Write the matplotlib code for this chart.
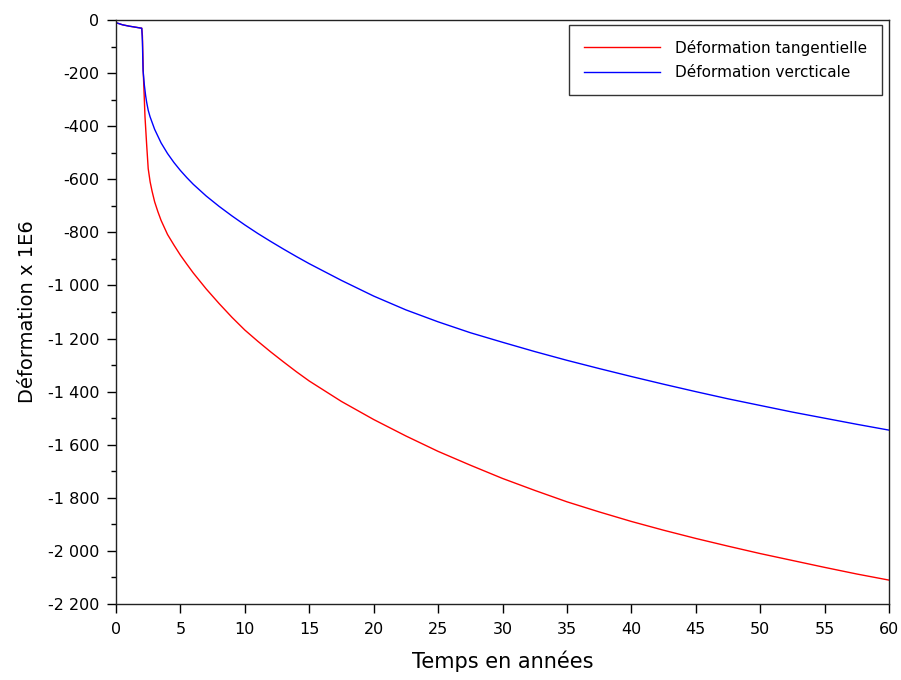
import matplotlib
matplotlib.use("Agg")
import matplotlib.pyplot as plt
from matplotlib.ticker import FixedLocator, MultipleLocator

# Temps (années) / Déformation tangentielle
t_red = [0, 0.5, 1.0, 1.5, 2.0, 2.05, 2.12, 2.2, 2.25, 2.38, 2.5, 2.65, 2.8, 3.0, 3.25, 3.5,
         4.0, 4.5, 5.0, 5.5, 6.0, 7.0, 8.0, 9.0, 10, 11, 12, 13, 14, 15, 17.5, 20, 22.5, 25,
         27.5, 30, 32.5, 35, 37.5, 40, 42.5, 45, 47.5, 50, 52.5, 55, 57.5, 60]
red = [-10, -18, -23, -27, -31, -60, -200, -300, -364, -470, -560, -610, -645, -685, -722, -755,
       -808, -848, -886, -920, -953, -1013, -1068, -1120, -1168, -1210, -1250, -1288, -1325,
       -1360, -1437, -1505, -1567, -1625, -1677, -1727, -1772, -1815, -1853, -1889, -1922,
       -1953, -1982, -2010, -2036, -2062, -2087, -2110]

# Temps (années) / Déformation verticale
t_blue = [0, 0.5, 1.0, 1.5, 2.0, 2.05, 2.1, 2.2, 2.3, 2.38, 2.5, 2.64, 3.0, 3.5, 4.0, 4.5, 5.0,
          5.5, 6.0, 7.0, 8.0, 9.0, 10, 11, 12, 13, 14, 15, 17.5, 20, 22.5, 25, 27.5, 30, 32.5,
          35, 37.5, 40, 42.5, 45, 47.5, 50, 52.5, 55, 57.5, 60]
blue = [-10, -18, -23, -27, -31, -80, -190, -245, -285, -310, -340, -364, -412, -463, -503,
        -537, -567, -594, -619, -663, -702, -738, -772, -804, -834, -863, -891, -918, -981,
        -1040, -1092, -1137, -1178, -1214, -1249, -1282, -1313, -1343, -1372, -1400, -1427,
        -1452, -1477, -1500, -1523, -1545]

labels = ["Déformation tangentielle", "Déformation vercticale"]

xticks = list(range(0, 61, 5))
yticks = list(range(-2200, 1, 200))
ytick_labels = [("-" if v < 0 else "") + f"{abs(v):,}".replace(",", " ") for v in yticks]

plt.rcParams['font.family'] = ['DejaVu Sans']

fig = plt.figure(figsize=(9.01, 6.8), dpi=100)
ax = fig.add_axes([116/901, 1 - 604/680, (889-116)/901, (604-20)/680])

ax.plot(t_red, red, color="#ff0000", lw=1.0, label=labels[0])
ax.plot(t_blue, blue, color="#0000ff", lw=1.0, label=labels[1])

ax.set_xlim(0, 60)
ax.set_ylim(-2200, 0)
ax.xaxis.set_major_locator(FixedLocator(xticks))
ax.set_xticklabels([str(v) for v in xticks])
ax.yaxis.set_major_locator(FixedLocator(yticks))
ax.set_yticklabels(ytick_labels)
ax.yaxis.set_minor_locator(MultipleLocator(100))

ax.tick_params(axis='both', which='major', direction='out', length=6.5, width=1.0,
               labelsize=11.5, colors='black')
ax.tick_params(axis='x', pad=6.5)
ax.tick_params(axis='y', pad=5.3)
ax.tick_params(axis='y', which='minor', direction='out', length=3.5, width=1.0)
for s in ax.spines.values():
    s.set_linewidth(1.0)
    s.set_color('#222222')

ax.set_xlabel("Temps en années", fontsize=15, labelpad=10)
ax.set_ylabel("Déformation x 1E6", fontsize=14, labelpad=8)

leg = ax.legend(loc='upper right', bbox_to_anchor=(882/901, 1 - 25/680),
                bbox_transform=fig.transFigure, frameon=True, fancybox=False,
                edgecolor='black', fontsize=11, handlelength=5.0, handletextpad=1.0,
                borderpad=0.95, labelspacing=0.62, borderaxespad=0)
leg.get_frame().set_linewidth(1.0)

fig.savefig("out.png", dpi=100)
